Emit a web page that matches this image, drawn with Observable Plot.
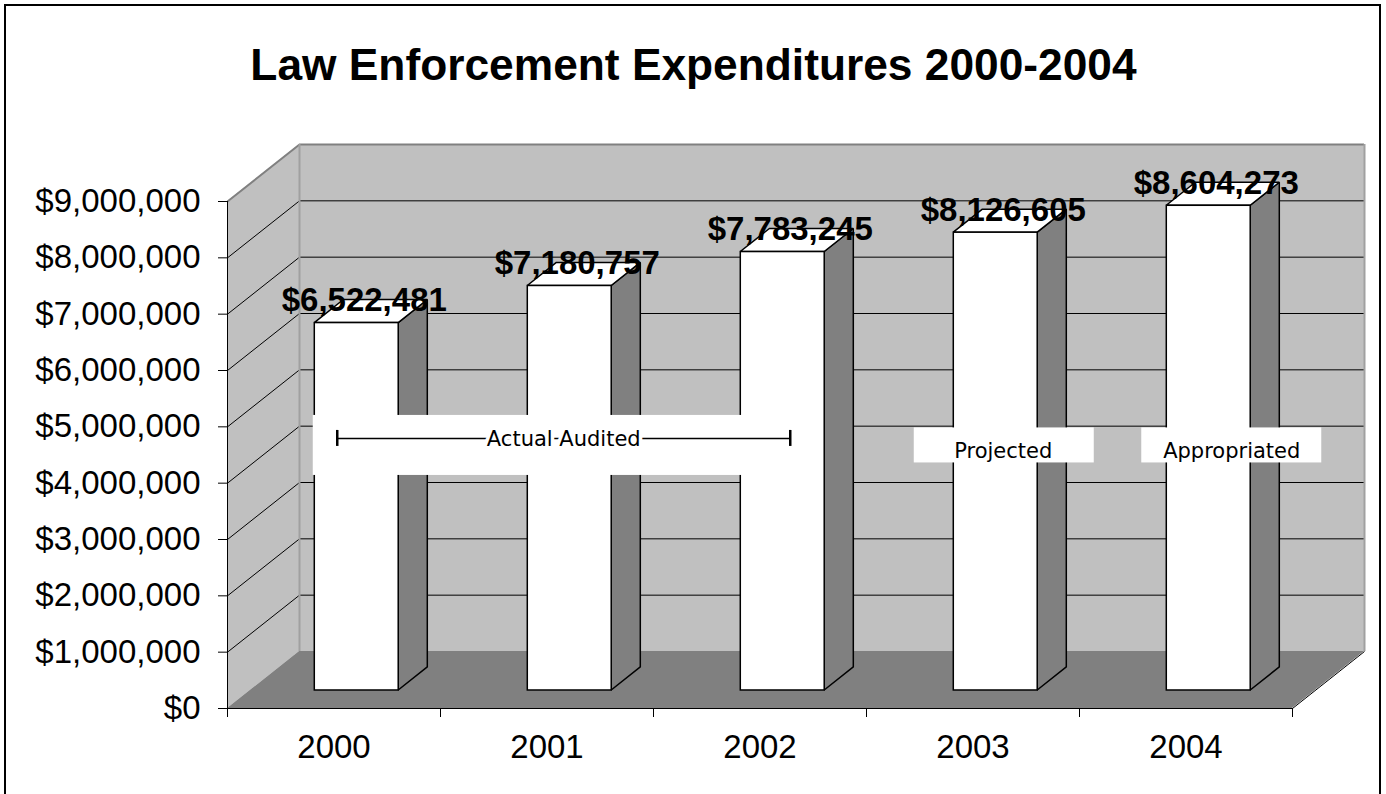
<!DOCTYPE html>
<html><head><meta charset="utf-8">
<script src="https://cdn.jsdelivr.net/npm/d3@7"></script>
<script src="https://cdn.jsdelivr.net/npm/@observablehq/plot@0.6"></script>
<style>
html,body{margin:0;padding:0;background:#fff;overflow:hidden}
#wrap{position:relative;width:1386px;height:794px}
#chart svg{display:block}
#border{position:absolute;left:4px;top:4px;width:1377px;height:800px;border:2px solid #000;box-sizing:border-box;pointer-events:none}
</style></head><body><div id="wrap"><div id="chart"></div><div id="border"></div></div>
<script>
// ---- data ----
const title = "Law Enforcement Expenditures 2000-2004";
const years = ["2000", "2001", "2002", "2003", "2004"];
const values = [6522481, 7180757, 7783245, 8126605, 8604273];
const yTicks = [0, 1000000, 2000000, 3000000, 4000000, 5000000, 6000000, 7000000, 8000000, 9000000];
const noteLabels = ["Actual Audited", "Projected", "Appropriated"];
const noteFrom = ["2000", "2003", "2004"];
const noteTo = ["2002", "2003", "2004"];

// ---- layout ----
const W = 1386, H = 794, mL = 227, mR = 94, mT = 201, mB = 86;
const yMax = yTicks[yTicks.length - 1];
const n = years.length;
const kx = (W - mL - mR) / n;          // px per category unit
const ky = (H - mT - mB) / yMax;       // px per dollar
const ux = px => px / kx, uy = px => px / ky;
const DX = ux(72), DY = uy(57);        // depth of the 3D box
const F0 = 0.316, BD = 0.404, BW = 0.394;
const fmt = d3.format("$,");
const FONT = "Liberation Sans, Arial, Helvetica, sans-serif";
const NOTEFONT = "DejaVu Sans, Verdana, sans-serif";

const bars = years.map((yr, i) => {
  const v = values[i];
  const c = i + 0.5 + F0 * DX;
  return {yr, v, i, c, xl: c - BW / 2, xr: c + BW / 2, yb: F0 * DY, yt: v + F0 * DY};
});
const bdx = BD * DX, bdy = BD * DY;
const sidePts = bars.flatMap(b => [
  {id: b.i, x: b.xr, y1: b.yb, y2: b.yt},
  {id: b.i, x: b.xr + bdx, y1: b.yb + bdy, y2: b.yt + bdy}
]);
const topPts = bars.flatMap(b => [
  {id: b.i, y: b.yt, x1: b.xl, x2: b.xr},
  {id: b.i, y: b.yt + bdy, x1: b.xl + bdx, x2: b.xr + bdx}
]);

// annotation boxes (pixel offsets relative to spanned bars)
const boxDx = [-14, 8.5, 23], boxW = [485, 180, 180], boxH = [60, 35, 35], textDx = [8, -1, 0], textDy = [-6, 6, 6];
const noteY = 4.35e6 + F0 * DY;
const notes = noteLabels.map((label, k) => {
  const a = years.indexOf(noteFrom[k]), b = years.indexOf(noteTo[k]);
  const c = (bars[a].c + bars[b].c) / 2 + ux(boxDx[k]);
  return {label, k, c, x1: c - ux(boxW[k] / 2), x2: c + ux(boxW[k] / 2),
          y1: noteY - uy(boxH[k] / 2), y2: noteY + uy(boxH[k] / 2),
          tx: c + ux(textDx[k]), ty: noteY - uy(textDy[k])};
});
const bracket = notes.filter(d => d.k === 0).map(d => ({
  x1: d.x1 + ux(24), x2: d.x2 - ux(8), y: noteY + uy(7)
}));
const bracketEnds = bracket.flatMap(b => [{x: b.x1, y: b.y}, {x: b.x2, y: b.y}]);

const wall = [{x: 0, y1: 0, y2: yMax}, {x: DX, y1: DY, y2: yMax + DY}];
const floor = [{y: 0, x1: 0, x2: n}, {y: DY, x1: DX, x2: n + DX}];
const inner = yTicks.slice(1, -1);
const GRAY = "#c0c0c0", DARK = "#808080";

const chart = Plot.plot({
  width: W, height: H,
  marginLeft: mL, marginRight: mR, marginTop: mT, marginBottom: mB,
  x: {type: "linear", domain: [0, n]},
  y: {type: "linear", domain: [0, yMax]},
  style: {fontFamily: FONT, fontSize: "33px", background: "transparent", overflow: "visible", color: "#000"},
  marks: [
    // walls and floor
    Plot.areaY(wall, {x: "x", y1: "y1", y2: "y2", fill: GRAY}),
    Plot.rect([0], {x1: () => DX, x2: () => n + DX, y1: () => DY, y2: () => yMax + DY, fill: GRAY}),
    Plot.areaX(floor, {y: "y", x1: "x1", x2: "x2", fill: DARK}),
    // gridlines
    Plot.ruleY(inner, {y: d => d + DY, x1: () => DX, x2: () => n + DX, stroke: "#000", strokeWidth: 1}),
    Plot.link(inner, {x1: () => 0, y1: d => d, x2: () => DX, y2: d => d + DY, stroke: "#000", strokeWidth: 1}),
    // wall edges
    Plot.link([yMax], {x1: () => 0, y1: d => d, x2: () => DX, y2: d => d + DY, stroke: DARK, strokeWidth: 2}),
    Plot.ruleY([yMax], {y: d => d + DY, x1: () => DX, x2: () => n + DX, stroke: DARK, strokeWidth: 2}),
    Plot.ruleX([DX, n + DX], {x: d => d, y1: () => DY, y2: () => yMax + DY, stroke: "#a0a0a0", strokeWidth: 2}),
    Plot.link([0], {x1: () => n, y1: () => 0, x2: () => n + DX, y2: () => DY, stroke: "#000", strokeWidth: 1}),
    // bars
    Plot.areaY(sidePts, {x: "x", y1: "y1", y2: "y2", z: "id", fill: DARK, stroke: "#000", strokeWidth: 1.5, strokeLinejoin: "miter"}),
    Plot.areaX(topPts, {y: "y", x1: "x1", x2: "x2", z: "id", fill: "#fff", stroke: "#000", strokeWidth: 1.5, strokeLinejoin: "miter"}),
    Plot.rect(bars, {x1: "xl", x2: "xr", y1: "yb", y2: "yt", fill: "#fff", stroke: "#000", strokeWidth: 1.5}),
    // axes
    Plot.ruleX([0], {y1: () => 0, y2: () => yMax, stroke: "#000", strokeWidth: 1}),
    Plot.ruleY([0], {x1: () => 0, x2: () => n, stroke: "#000", strokeWidth: 1}),
    Plot.axisY({ticks: yTicks, tickFormat: fmt, tickSize: 9, tickPadding: 18, fontSize: 33, anchor: "left"}),
    Plot.axisX({ticks: d3.range(n + 1), tickFormat: () => "", tickSize: 9, anchor: "bottom"}),
    Plot.axisX({ticks: years.map((y, i) => i + 0.5), tickFormat: d => years[Math.floor(d)], tickSize: 0, tickPadding: 26, fontSize: 33, anchor: "bottom"}),
    // value labels
    Plot.text(bars, {x: d => d.c + ux(7.5), y: "yt", dy: -12, text: d => fmt(d.v), fontSize: 33, fontWeight: "bold", lineAnchor: "bottom", textAnchor: "middle"}),
    // annotations
    Plot.rect(notes, {x1: "x1", x2: "x2", y1: "y1", y2: "y2", fill: "#fff"}),
    Plot.ruleY(bracket, {y: "y", x1: "x1", x2: "x2", stroke: "#000", strokeWidth: 1.5}),
    Plot.ruleX(bracketEnds, {x: "x", y1: d => d.y - uy(8), y2: d => d.y + uy(8), stroke: "#000", strokeWidth: 2.5}),
    Plot.text(notes, {x: "tx", y: "ty", text: "label", fontSize: 21, fontFamily: NOTEFONT, lineAnchor: "middle", textAnchor: "middle", fill: "#000", stroke: "#fff", strokeWidth: 7}),
    // title
    Plot.text([title], {frameAnchor: "top", dx: W / 2 - (mL + (W - mL - mR) / 2), dy: 79 - mT, fontSize: 44.3, fontWeight: "bold", lineAnchor: "bottom", textAnchor: "middle"})
  ]
});
document.getElementById("chart").append(chart);
</script></body></html>
